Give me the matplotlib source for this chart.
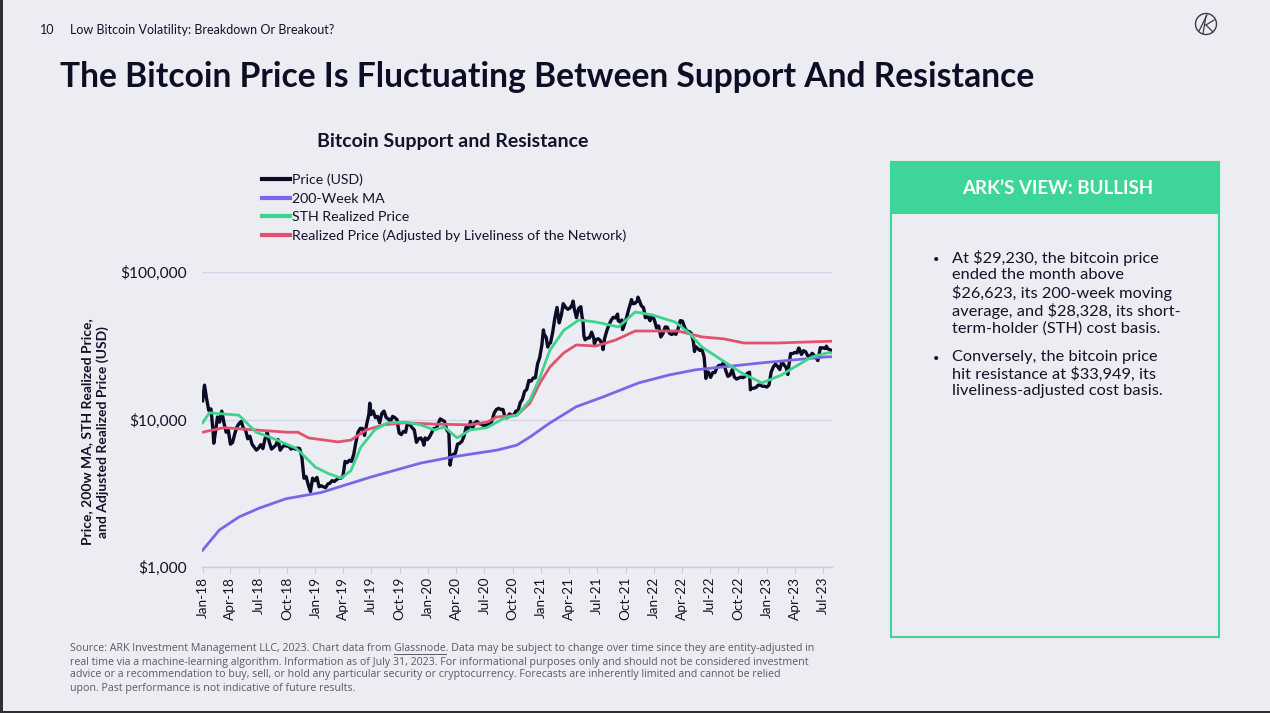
import matplotlib
matplotlib.use('Agg')
import matplotlib.pyplot as plt
import matplotlib.dates as mdates
from matplotlib.patches import Rectangle, Ellipse
from matplotlib.lines import Line2D
from matplotlib.ticker import FixedLocator, FuncFormatter, NullLocator
import pandas as pd

# ---------------- data ----------------
price_dates = [
 '2018-01-01','2018-01-07','2018-01-14','2018-01-21','2018-01-28','2018-02-04','2018-02-06','2018-02-11','2018-02-18','2018-02-25',
 '2018-03-04','2018-03-11','2018-03-18','2018-03-25','2018-04-01','2018-04-08','2018-04-15','2018-04-22','2018-04-29','2018-05-06',
 '2018-05-13','2018-05-20','2018-05-27','2018-06-03','2018-06-10','2018-06-17','2018-06-24','2018-07-01','2018-07-08','2018-07-15',
 '2018-07-22','2018-07-29','2018-08-05','2018-08-12','2018-08-19','2018-08-26','2018-09-02','2018-09-09','2018-09-16','2018-09-23',
 '2018-09-30','2018-10-07','2018-10-14','2018-10-21','2018-10-28','2018-11-04','2018-11-11','2018-11-18','2018-11-25','2018-12-02',
 '2018-12-09','2018-12-16','2018-12-23','2018-12-30',
 '2019-01-06','2019-01-13','2019-01-20','2019-01-27','2019-02-03','2019-02-10','2019-02-17','2019-02-24','2019-03-03','2019-03-10',
 '2019-03-17','2019-03-24','2019-03-31','2019-04-07','2019-04-14','2019-04-21','2019-04-28','2019-05-05','2019-05-12','2019-05-19',
 '2019-05-26','2019-06-02','2019-06-09','2019-06-16','2019-06-23','2019-06-26','2019-06-30','2019-07-07','2019-07-14','2019-07-21',
 '2019-07-28','2019-08-04','2019-08-11','2019-08-18','2019-08-25','2019-09-01','2019-09-08','2019-09-15','2019-09-22','2019-09-29',
 '2019-10-06','2019-10-13','2019-10-20','2019-10-26','2019-11-03','2019-11-10','2019-11-17','2019-11-24','2019-12-01','2019-12-08',
 '2019-12-15','2019-12-18','2019-12-22','2019-12-29',
 '2020-01-05','2020-01-12','2020-01-19','2020-01-26','2020-02-02','2020-02-09','2020-02-16','2020-02-23','2020-03-01','2020-03-08',
 '2020-03-12','2020-03-15','2020-03-22','2020-03-29','2020-04-05','2020-04-12','2020-04-19','2020-04-26','2020-05-03','2020-05-10',
 '2020-05-17','2020-05-24','2020-05-31','2020-06-07','2020-06-14','2020-06-21','2020-06-28','2020-07-05','2020-07-12','2020-07-19',
 '2020-07-26','2020-08-02','2020-08-09','2020-08-16','2020-08-23','2020-08-30','2020-09-06','2020-09-13','2020-09-20','2020-09-27',
 '2020-10-04','2020-10-11','2020-10-18','2020-10-25','2020-11-01','2020-11-08','2020-11-15','2020-11-22','2020-11-29','2020-12-06',
 '2020-12-13','2020-12-20','2020-12-27',
 '2021-01-03','2021-01-08','2021-01-10','2021-01-17','2021-01-22','2021-01-24','2021-01-31','2021-02-07','2021-02-14','2021-02-21',
 '2021-02-28','2021-03-07','2021-03-13','2021-03-21','2021-03-28','2021-04-04','2021-04-11','2021-04-14','2021-04-18','2021-04-25',
 '2021-05-02','2021-05-09','2021-05-13','2021-05-16','2021-05-19','2021-05-23','2021-05-30','2021-06-06','2021-06-13','2021-06-20',
 '2021-06-22','2021-06-27','2021-07-04','2021-07-11','2021-07-18','2021-07-20','2021-07-25','2021-08-01','2021-08-08','2021-08-15',
 '2021-08-22','2021-08-29','2021-09-05','2021-09-07','2021-09-12','2021-09-19','2021-09-21','2021-09-26','2021-10-03','2021-10-10',
 '2021-10-17','2021-10-20','2021-10-24','2021-10-31','2021-11-07','2021-11-10','2021-11-14','2021-11-21','2021-11-28','2021-12-04',
 '2021-12-12','2021-12-19','2021-12-26',
 '2022-01-02','2022-01-09','2022-01-16','2022-01-23','2022-01-30','2022-02-06','2022-02-13','2022-02-20','2022-02-27','2022-03-06',
 '2022-03-13','2022-03-20','2022-03-27','2022-04-03','2022-04-10','2022-04-17','2022-04-24','2022-05-01','2022-05-08','2022-05-12',
 '2022-05-15','2022-05-22','2022-05-29','2022-06-05','2022-06-12','2022-06-18','2022-06-19','2022-06-26','2022-07-03','2022-07-10',
 '2022-07-17','2022-07-24','2022-07-31','2022-08-07','2022-08-14','2022-08-21','2022-08-28','2022-09-04','2022-09-11','2022-09-18',
 '2022-09-25','2022-10-02','2022-10-09','2022-10-16','2022-10-23','2022-10-30','2022-11-06','2022-11-09','2022-11-13','2022-11-20',
 '2022-11-27','2022-12-04','2022-12-11','2022-12-18','2022-12-25',
 '2023-01-01','2023-01-08','2023-01-15','2023-01-22','2023-01-29','2023-02-05','2023-02-12','2023-02-19','2023-02-26','2023-03-05',
 '2023-03-10','2023-03-12','2023-03-19','2023-03-26','2023-04-02','2023-04-09','2023-04-14','2023-04-16','2023-04-23','2023-04-30',
 '2023-05-07','2023-05-14','2023-05-21','2023-05-28','2023-06-04','2023-06-11','2023-06-15','2023-06-18','2023-06-23','2023-06-25',
 '2023-07-02','2023-07-09','2023-07-13','2023-07-16','2023-07-23','2023-07-31']
price_values = [
 13400,17100,13800,11500,11800,8200,6900,8100,10400,9600,
 11400,9500,8200,8500,6800,7000,8000,8900,9400,9700,
 8700,8500,7400,7700,6800,6500,6200,6400,6750,6350,
 7400,8200,7000,6300,6500,6700,7300,6200,6500,6700,
 6600,6600,6300,6400,6300,6400,6350,5600,4000,4100,
 3600,3250,4000,3850,
 4050,3500,3550,3500,3450,3650,3700,3850,3800,3900,
 4000,3990,4100,5200,5100,5300,5200,5800,7000,8200,
 8700,8700,7800,9300,10800,12900,10800,11400,10300,10500,
 9500,11000,11400,10300,10100,9700,10500,10300,10000,8100,
 7900,8300,8200,9500,9200,8800,8500,7000,7400,7500,
 7100,6700,7500,7300,
 7600,8100,8700,8600,9300,10100,9900,9700,8500,8100,
 4900,5400,5800,5900,6800,6900,7100,7700,8900,8700,
 9700,8800,9500,9700,9400,9300,9100,9100,9300,9200,
 9900,11100,11700,11900,11700,11700,10300,10300,10900,10700,
 10700,11400,11500,13000,13700,15500,16000,18400,18200,19100,
 19200,23800,26300,
 32000,40500,38000,36000,31000,32300,33100,39000,48700,57500,
 45200,51000,61000,57500,55900,57000,60000,63500,56200,49000,
 56600,58200,49700,46700,37000,34700,35600,35800,39100,35500,
 32500,34600,35300,34300,31800,29800,35400,39900,43800,47000,
 49300,48800,51800,46800,46000,47300,40700,43200,48200,54900,
 61500,65000,61000,61300,63300,67500,64400,59000,57300,49000,
 50100,46700,50800,
 47300,41800,43100,36300,38200,42400,42200,38400,37700,38400,
 37800,41300,46800,46400,42200,39700,39500,38500,34100,28900,
 31300,30300,29400,29900,26600,19000,20500,21000,19300,20800,
 20800,22600,23300,23200,24300,21500,19600,20000,21800,19400,
 18800,19100,19400,19200,19600,20600,20900,15900,16300,16300,
 16500,17100,17100,16800,16800,
 16600,17100,20900,22700,23700,22900,21800,24600,23500,22400,
 20200,22100,28000,28000,28500,28300,30500,30300,27600,29300,
 28700,26900,26800,28100,27100,25900,25100,26500,30700,30500,
 30600,30300,31400,30300,29800,29230]

ma200_dates = ['2018-01-01','2018-02-24','2018-04-28','2018-07-02','2018-09-27','2019-01-20','2019-06-29','2019-12-07',
               '2020-03-25','2020-08-11','2020-10-14','2020-11-25','2021-01-28','2021-04-24','2021-07-19','2021-11-12',
               '2022-02-17','2022-05-14','2022-12-15','2023-07-15','2023-07-31']
ma200_values = [1300,1780,2180,2500,2900,3200,4070,5060,
                5600,6200,6700,7600,9450,12200,14200,17700,
                20000,21700,24200,26600,26623]

sth_dates = ['2018-01-01','2018-01-23','2018-04-28','2018-06-23','2018-08-13','2018-10-29','2018-11-17','2019-01-01',
             '2019-02-12','2019-03-25','2019-04-26','2019-05-28','2019-07-12','2019-08-23','2019-10-16','2019-12-07',
             '2020-01-21','2020-02-22','2020-04-04','2020-05-16','2020-07-09','2020-09-02','2020-10-14','2020-11-25',
             '2020-12-28','2021-01-29','2021-03-15','2021-05-03','2021-06-27','2021-09-08','2021-11-01','2021-12-28',
             '2022-03-10','2022-04-22','2022-06-05','2022-08-07','2022-10-11','2022-12-16','2023-02-17','2023-04-01',
             '2023-05-26','2023-07-16','2023-07-31']
sth_values = [9500,11100,10700,8200,7500,6400,5900,4750,
              4300,4000,4500,6500,8500,9500,9600,9200,
              8500,8900,7500,8500,8800,10200,10700,13500,
              19400,29500,40300,47300,45800,42400,53600,51000,
              45800,39000,31000,25400,20700,17700,20000,22700,
              26500,28300,28328]

rp_dates = ['2018-01-01','2018-03-10','2018-06-20','2018-10-01','2018-11-05','2018-12-10','2019-03-15','2019-04-26',
            '2019-06-15','2019-08-10','2019-10-16','2020-01-25','2020-05-16','2020-07-09','2020-08-10','2020-10-14',
            '2020-11-25','2020-12-28','2021-01-29','2021-03-15','2021-04-24','2021-06-27','2021-08-30','2021-11-01',
            '2022-03-20','2022-06-05','2022-08-15','2022-10-20','2023-02-01','2023-07-31']
rp_values = [8200,8800,8500,8200,8200,7500,7050,7250,
             8500,9200,9500,9300,9200,9600,10400,10700,
             12900,17700,22700,28300,32000,31500,34600,39800,
             39800,36300,35200,33000,33000,33949]

y_ticks = [1000, 10000, 100000]
legend_labels = ['Price (USD)', '200-Week MA', 'STH Realized Price',
                 'Realized Price (Adjusted by Liveliness of the Network)']

# ---------------- figure ----------------
W, H = 1270, 713
fig = plt.figure(figsize=(12.7, 7.13), dpi=100)
bg = '#ECEDF2'
fig.patch.set_facecolor(bg)
FONT = ['Lato', 'DejaVu Sans']
dark = '#12122A'

def fx(x):
    return x / W

def fy(y):
    return 1 - y / H

# frame strips
fig.add_artist(Rectangle((0, 0), fx(3), 1, transform=fig.transFigure, color='#2E3035', lw=0))
fig.add_artist(Rectangle((0, 0), 1, 2 / H, transform=fig.transFigure, color='#2E3035', lw=0))

# header
fig.text(fx(40), fy(30), '10', fontsize=9, family=FONT, color=dark, va='center', ha='left')
fig.text(fx(70), fy(30), 'Low Bitcoin Volatility: Breakdown Or Breakout?', fontsize=9, family=FONT,
         color=dark, va='center', ha='left')
# logo
logo_c = '#3A3A48'
fig.add_artist(Ellipse((fx(1206), fy(24)), 21 / W, 21 / H, transform=fig.transFigure, fill=False,
                       ec=logo_c, lw=1.0))
for (x0, y0, x1, y1) in [(1199, 31, 1207, 15), (1203, 33.5, 1206, 16), (1206, 25, 1214, 20), (1206, 25, 1213, 32)]:
    fig.add_artist(Line2D([fx(x0), fx(x1)], [fy(y0), fy(y1)], transform=fig.transFigure, color=logo_c, lw=0.9))

# title
fig.text(fx(60), fy(77), 'The Bitcoin Price Is Fluctuating Between Support And Resistance', fontsize=24.2,
         fontweight='bold', family=FONT, color='#0D0D26', va='center', ha='left')

# chart title
fig.text(fx(453), fy(142), 'Bitcoin Support and Resistance', fontsize=14, fontweight='bold',
         family=FONT, color=dark, va='center', ha='center')

# axes
ax = fig.add_axes([fx(201.7), fy(567), (832 - 201.7) / W, (567 - 272) / H])
ax.set_facecolor(bg)
ax.set_yscale('log')

l1, = ax.plot(pd.to_datetime(price_dates), price_values, color='#0B0B25', lw=2.4, solid_joinstyle='round', zorder=3)
l2, = ax.plot(pd.to_datetime(ma200_dates), ma200_values, color='#7B66EA', lw=2.0, zorder=4)
l3, = ax.plot(pd.to_datetime(sth_dates), sth_values, color='#3DD390', lw=2.0, zorder=5)
l4, = ax.plot(pd.to_datetime(rp_dates), rp_values, color='#E2526E', lw=2.0, zorder=4)

ax.set_ylim(1000, 100000)
ax.set_xlim(pd.Timestamp('2017-12-29'), pd.Timestamp('2023-07-31'))
ax.yaxis.set_major_locator(FixedLocator(y_ticks))
ax.yaxis.set_minor_locator(NullLocator())
ax.yaxis.set_major_formatter(FuncFormatter(lambda v, p: '${:,.0f}'.format(v)))
ax.xaxis.set_major_locator(mdates.MonthLocator(bymonth=[1, 4, 7, 10]))
ax.xaxis.set_major_formatter(mdates.DateFormatter('%b-%y'))
for s in ['top', 'right', 'left']:
    ax.spines[s].set_visible(False)
ax.spines['bottom'].set_color('#CACAE4')
ax.spines['bottom'].set_linewidth(1.0)
ax.yaxis.grid(True, color='#D2D2EA', lw=1.0)
ax.set_axisbelow(True)
ax.tick_params(axis='y', length=0, pad=11, labelsize=11.2, labelcolor=dark)
ax.tick_params(axis='x', length=4, width=0.8, color='#CACAE4', pad=3, labelsize=9.8, labelcolor=dark,
               labelrotation=90)
for lab in ax.get_xticklabels() + ax.get_yticklabels():
    lab.set_family(FONT)

fig.text(fx(95), fy(432), 'Price, 200w MA, STH Realized Price,\nand Adjusted Realized Price (USD)',
         rotation=90, fontsize=10, fontweight='bold', family=FONT, color=dark, ha='center', va='center',
         multialignment='center', linespacing=1.25)

leg = fig.legend([l1, l2, l3, l4], legend_labels, loc='upper left', bbox_to_anchor=(fx(249), fy(161)),
                 frameon=False, handlelength=2.0, handletextpad=0.15, labelspacing=0.44,
                 prop={'family': FONT, 'size': 10.2})
for h in leg.legend_handles:
    h.set_linewidth(3)
for t in leg.get_texts():
    t.set_color(dark)

# right panel
green = '#3DD598'
fig.add_artist(Rectangle((fx(891), fy(637)), (1219 - 891) / W, (637 - 162) / H, transform=fig.transFigure,
                         fill=False, ec=green, lw=1.5))
fig.add_artist(Rectangle((fx(891), fy(213)), (1219 - 891) / W, (213 - 162) / H, transform=fig.transFigure,
                         fc=green, ec=green, lw=1.5))
fig.text(fx(1058), fy(188), 'ARK\u2019S VIEW: BULLISH', fontsize=13.5, fontweight='bold', family=FONT,
         color='white', ha='center', va='center')

bullets = [
    ('At $29,230, the bitcoin price\nended the month above\n$26,623, its 200-week moving\naverage, and $28,328, its short-\nterm-holder (STH) cost basis.', 259),
    ('Conversely, the bitcoin price\nhit resistance at $33,949, its\nliveliness-adjusted cost basis.', 359),
]
for txt, ytop in bullets:
    fig.text(fx(933), fy(ytop), '\u2022', fontsize=8, family=FONT, color=dark, ha='left', va='center')
    fig.text(fx(952), fy(ytop - 9), txt, fontsize=11.8, family=FONT, color=dark, ha='left', va='top',
             linespacing=1.19)

# footer
FOOT = ['Liberation Sans Narrow', 'Open Sans', 'DejaVu Sans']
foot_lines = [
    'Source: ARK Investment Management LLC, 2023. Chart data from Glassnode. Data may be subject to change over time since they are entity-adjusted in',
    'real time via a machine-learning algorithm. Information as of July 31, 2023. For informational purposes only and should not be considered investment',
    'advice or a recommendation to buy, sell, or hold any particular security or cryptocurrency. Forecasts are inherently limited and cannot be relied',
    'upon. Past performance is not indicative of future results.',
]
foot_color = '#5A5A66'
for i, line in enumerate(foot_lines):
    fig.text(fx(70), fy(649 + 13 * i), line, fontsize=7.7, family=FOOT, color=foot_color, ha='left', va='center')

# underline for "Glassnode"
renderer = fig.canvas.get_renderer()
pre = fig.text(fx(70), fy(649), 'Source: ARK Investment Management LLC, 2023. Chart data from ', fontsize=7.7,
               family=FOOT, alpha=0)
word = fig.text(fx(70), fy(649), 'Glassnode', fontsize=7.7, family=FOOT, alpha=0)
x_start = pre.get_window_extent(renderer).x1
w_word = word.get_window_extent(renderer).width
fig.add_artist(Line2D([x_start / W, (x_start + w_word) / W], [fy(653.5), fy(653.5)], transform=fig.transFigure,
                      color=foot_color, lw=0.7))

fig.savefig('out.png', dpi=100, facecolor=bg)
